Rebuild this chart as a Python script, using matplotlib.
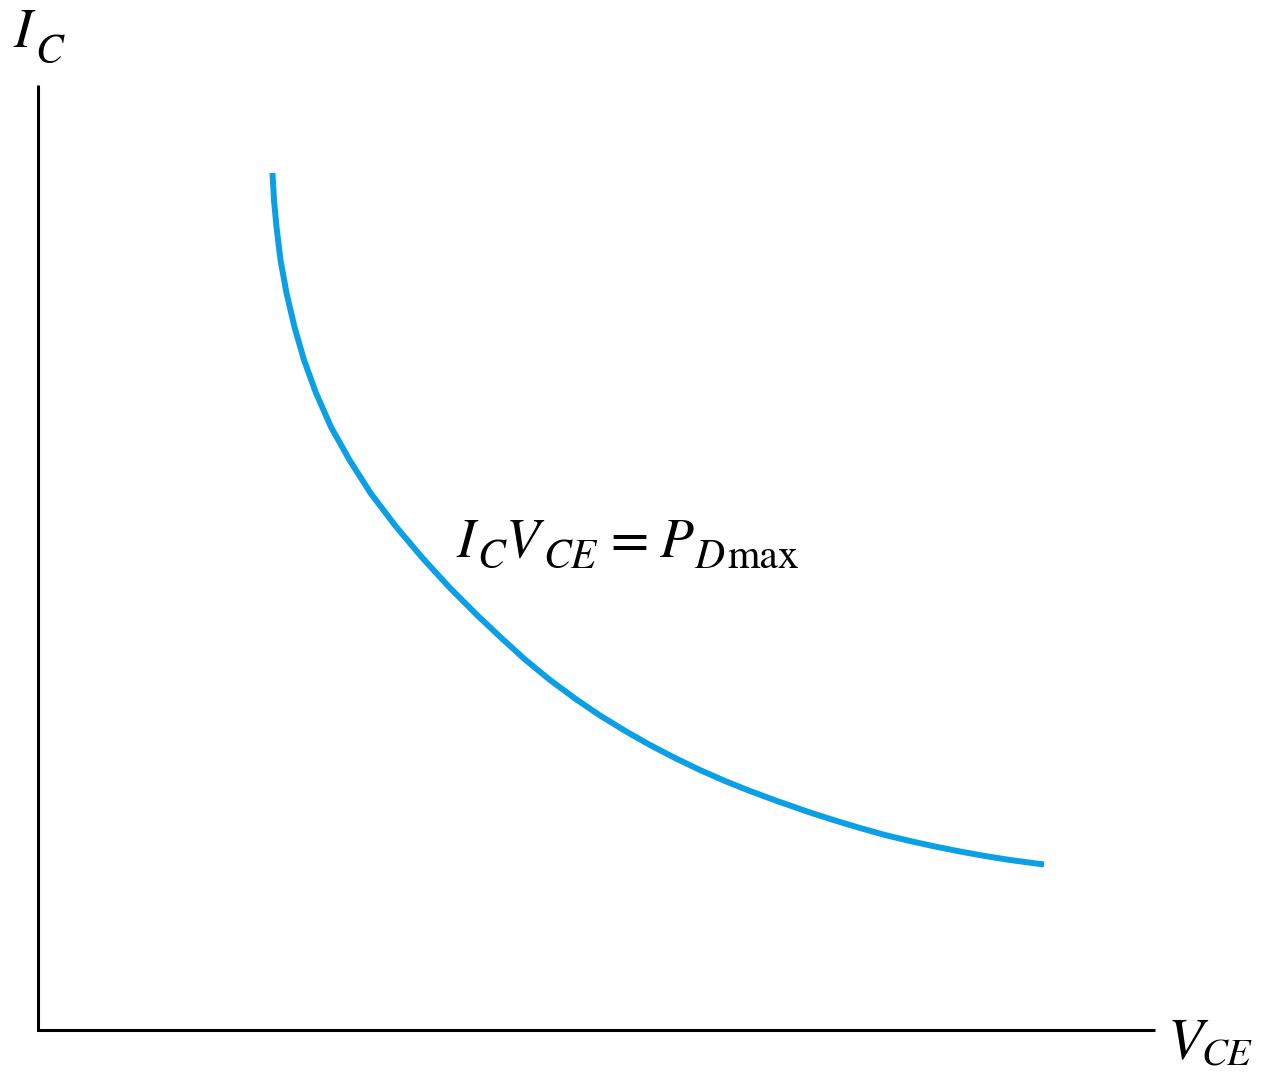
import matplotlib
matplotlib.use("Agg")
import matplotlib.pyplot as plt

plt.rcParams["font.family"] = "STIXGeneral"

# Maximum power dissipation curve, I_C * V_CE = P_Dmax (arbitrary units)
v_ce = [2.345, 2.36, 2.385, 2.425, 2.485, 2.565, 2.66, 2.78, 2.93, 3.115,
        3.325, 3.575, 3.845, 4.12, 4.40, 4.65, 4.87, 5.12, 5.37, 5.62,
        5.89, 6.12, 6.37, 6.62, 6.87, 7.12, 7.39, 7.72, 7.97, 8.22,
        8.47, 8.72, 8.97, 9.22, 9.47, 9.72, 10.06]
i_c = [8.57, 8.30, 8.03, 7.70, 7.37, 7.03, 6.70, 6.37, 6.03, 5.70,
       5.37, 5.04, 4.72, 4.42, 4.14, 3.905, 3.705, 3.50, 3.315, 3.145,
       2.98, 2.85, 2.72, 2.60, 2.49, 2.39, 2.29, 2.175, 2.095, 2.02,
       1.95, 1.89, 1.835, 1.785, 1.74, 1.70, 1.655]

# Extent of the drawn axes
x_axis_len = 11.17
y_axis_len = 9.45

W, H = 1269, 1077
fig = plt.figure(figsize=(W / 100, H / 100), dpi=100)
ax = fig.add_axes([0, 0, 1, 1])
ax.set_xlim(-0.38, (W - 38) / 100)
ax.set_ylim(-(H - 1030) / 100, 1030 / 100)
ax.axis("off")

# Axes drawn as plain lines from the origin
ax.plot([0, 0, x_axis_len], [y_axis_len, 0, 0], color="black", lw=2.2,
        solid_joinstyle="miter", solid_capstyle="butt")

# Power curve
ax.plot(v_ce, i_c, color="#0BA0E6", lw=4.3, solid_capstyle="butt",
        solid_joinstyle="round")


def px(x, y):
    """Figure pixel position (from top-left) to data coordinates."""
    return (x - 38) / 100, (1030 - y) / 100


def label(pieces):
    """Draw a label built from main letters and subscripts."""
    for text, x, y, size, style in pieces:
        dx, dy = px(x, y)
        ax.text(dx, dy, text, fontsize=size, fontstyle=style,
                ha="left", va="baseline", color="black")


# Vertical axis label: I_C
label([("I", 13, 47, 40, "italic"),
       ("C", 35, 63, 30, "italic")])

# Horizontal axis label: V_CE
label([("V", 1168, 1058, 42, "italic"),
       ("CE", 1201, 1066, 28, "italic")])

# Curve annotation: I_C V_CE = P_Dmax
label([("I", 456, 557, 40, "italic"),
       ("C", 477, 568, 30, "italic"),
       ("V", 506, 557, 40, "italic"),
       ("CE", 543, 568, 30, "italic"),
       ("=", 610, 557, 40, "normal"),
       ("P", 660, 557, 40, "italic"),
       ("D", 694, 568, 30, "italic"),
       ("max", 727, 568, 30, "normal")])

fig.savefig("out.png", dpi=100, facecolor="white")
